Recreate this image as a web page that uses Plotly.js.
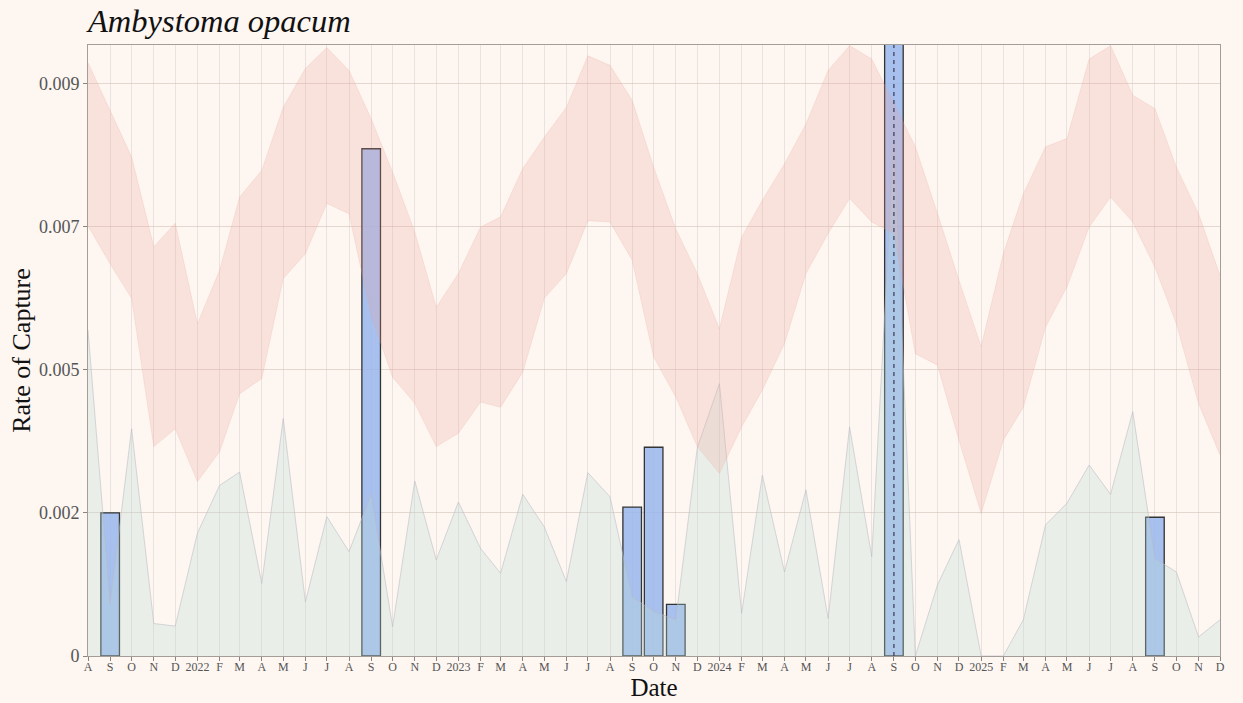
<!DOCTYPE html>
<html>
<head>
<meta charset="utf-8">
<script src="https://cdn.plot.ly/plotly-3.0.1.min.js"></script>
<style>
  html, body { margin: 0; padding: 0; background: #FDF6F1; }
  #chart { width: 1243px; height: 703px; }
</style>
</head>
<body>
<div id="chart"></div>
<script>
// ---- Data ----
const months = [
  "2021-08-01","2021-09-01","2021-10-01","2021-11-01","2021-12-01",
  "2022-01-01","2022-02-01","2022-03-01","2022-04-01","2022-05-01","2022-06-01",
  "2022-07-01","2022-08-01","2022-09-01","2022-10-01","2022-11-01","2022-12-01",
  "2023-01-01","2023-02-01","2023-03-01","2023-04-01","2023-05-01","2023-06-01",
  "2023-07-01","2023-08-01","2023-09-01","2023-10-01","2023-11-01","2023-12-01",
  "2024-01-01","2024-02-01","2024-03-01","2024-04-01","2024-05-01","2024-06-01",
  "2024-07-01","2024-08-01","2024-09-01","2024-10-01","2024-11-01","2024-12-01",
  "2025-01-01","2025-02-01","2025-03-01","2025-04-01","2025-05-01","2025-06-01",
  "2025-07-01","2025-08-01","2025-09-01","2025-10-01","2025-11-01","2025-12-01"
];

const monthLabels = [
  "A","S","O","N","D",
  "2022","F","M","A","M","J","J","A","S","O","N","D",
  "2023","F","M","A","M","J","J","A","S","O","N","D",
  "2024","F","M","A","M","J","J","A","S","O","N","D",
  "2025","F","M","A","M","J","J","A","S","O","N","D"
];

// expected-rate band (upper / lower)
const bandUpper = [
  0.00932,0.00857,0.00784,0.00643,0.00680,
  0.00522,0.00606,0.00721,0.00763,0.00862,0.00923,0.00956,0.00920,0.00844,0.00760,0.00666,0.00548,
  0.00601,0.00674,0.00690,0.00766,0.00815,0.00862,0.00943,0.00928,0.00873,0.00768,0.00671,0.00601,
  0.00514,0.00658,0.00716,0.00773,0.00836,0.00920,0.00959,0.00938,0.00868,0.00800,0.00695,0.00590,
  0.00486,0.00632,0.00726,0.00800,0.00813,0.00938,0.00959,0.00881,0.00860,0.00768,0.00695,0.00598
];
const bandLower = [
  0.00676,0.00616,0.00562,0.00329,0.00357,
  0.00274,0.00321,0.00412,0.00436,0.00593,0.00632,0.00711,0.00695,0.00535,0.00438,0.00397,0.00329,
  0.00350,0.00399,0.00391,0.00446,0.00562,0.00601,0.00684,0.00682,0.00622,0.00470,0.00407,0.00329,
  0.00287,0.00360,0.00418,0.00491,0.00601,0.00664,0.00719,0.00682,0.00664,0.00475,0.00457,0.00339,
  0.00224,0.00339,0.00391,0.00517,0.00580,0.00674,0.00721,0.00682,0.00611,0.00522,0.00397,0.00316
];

// background (grey) rate series
const greyRate = [
  0.00512,0.00083,0.00357,0.00051,0.00047,
  0.00193,0.00268,0.00289,0.00114,0.00373,0.00085,0.00219,0.00164,0.00254,0.00046,0.00275,0.00151,
  0.00242,0.00169,0.00130,0.00254,0.00203,0.00117,0.00288,0.00250,0.00093,0.00070,0.00057,0.00327,
  0.00428,0.00067,0.00284,0.00132,0.00261,0.00059,0.00360,0.00156,0.00810,0.00000,0.00112,0.00183,
  0.00000,0.00000,0.00057,0.00206,0.00240,0.00300,0.00254,0.00384,0.00153,0.00132,0.00030,0.00057
];

// observed capture rates (bars)
const barDates  = ["2021-09-01","2022-09-01","2023-09-01","2023-10-01","2023-11-01","2024-09-01","2025-09-01"];
const barValues = [0.00225,0.00797,0.00234,0.00328,0.00081,0.01250,0.00218];

// dashed marker month
const dashedDate = "2024-09-01";

// y-axis ticks
const yTickVals = [0, 0.00225, 0.0045, 0.00675, 0.009];
const yTickText = ["0","0.002","0.005","0.007","0.009"];

// ---- Traces ----
const serif = "Liberation Serif, Times New Roman, serif";

const traces = [
  {
    x: months, y: greyRate, type: "scatter", mode: "lines",
    fill: "tozeroy", fillcolor: "rgba(190,220,215,0.30)",
    line: { color: "rgba(185,185,195,0.55)", width: 1 },
    hoverinfo: "skip", showlegend: false
  },
  {
    x: months, y: bandLower, type: "scatter", mode: "lines",
    line: { color: "rgba(230,165,155,0.30)", width: 0.7 },
    hoverinfo: "skip", showlegend: false
  },
  {
    x: months, y: bandUpper, type: "scatter", mode: "lines",
    fill: "tonexty", fillcolor: "rgba(240,160,150,0.23)",
    line: { color: "rgba(230,165,155,0.30)", width: 0.7 },
    hoverinfo: "skip", showlegend: false
  },
  {
    x: barDates, y: barValues, type: "bar",
    width: 26 * 86400000,
    marker: { color: "rgba(152,182,237,0.85)", line: { color: "#333333", width: 1.3 } },
    hoverinfo: "skip", showlegend: false
  },
  {
    x: [dashedDate, dashedDate], y: [0, Math.max.apply(null, barValues)],
    type: "scatter", mode: "lines",
    line: { color: "#3a3a55", width: 1.2, dash: "4px,4px" },
    hoverinfo: "skip", showlegend: false
  }
];

const layout = {
  width: 1243, height: 703,
  paper_bgcolor: "#FDF6F1",
  plot_bgcolor: "#FDF6F1",
  margin: { l: 88, r: 23, t: 45, b: 47, pad: 0 },
  showlegend: false,
  title: {
    text: "<i>Ambystoma opacum</i>",
    font: { family: serif, size: 32.5, color: "#111111" },
    x: 0, xref: "paper", xanchor: "left",
    y: 1 - 21 / 703, yref: "container", yanchor: "middle"
  },
  xaxis: {
    type: "date",
    range: ["2021-08-01", "2025-12-01"],
    tickmode: "array",
    tickvals: months,
    ticktext: monthLabels,
    tickangle: 0,
    ticklabelstandoff: -4,
    tickfont: { family: serif, size: 12, color: "#555555" },
    ticks: "outside", ticklen: 4, tickcolor: "#8a8480", tickwidth: 1,
    showgrid: true, gridcolor: "rgba(205,198,195,0.40)", gridwidth: 1,
    showline: true, linecolor: "#A39C97", linewidth: 1, mirror: true,
    zeroline: false,
    automargin: false,
    title: { text: "Date", font: { family: serif, size: 25, color: "#111111" }, standoff: 4 }
  },
  yaxis: {
    range: [0, 0.0096],
    tickmode: "array",
    tickvals: yTickVals,
    ticktext: yTickText,
    tickfont: { family: serif, size: 18, color: "#555555" },
    ticks: "outside", ticklen: 4, tickcolor: "#8a8480", tickwidth: 1,
    showgrid: true, gridcolor: "rgba(205,190,180,0.55)", gridwidth: 1,
    showline: true, linecolor: "#A39C97", linewidth: 1, mirror: true,
    zeroline: false,
    automargin: false,
    title: { text: "Rate of Capture", font: { family: serif, size: 26, color: "#111111" }, standoff: 0 }
  }
};

Plotly.newPlot("chart", traces, layout, { staticPlot: true, displayModeBar: false });
</script>
</body>
</html>
